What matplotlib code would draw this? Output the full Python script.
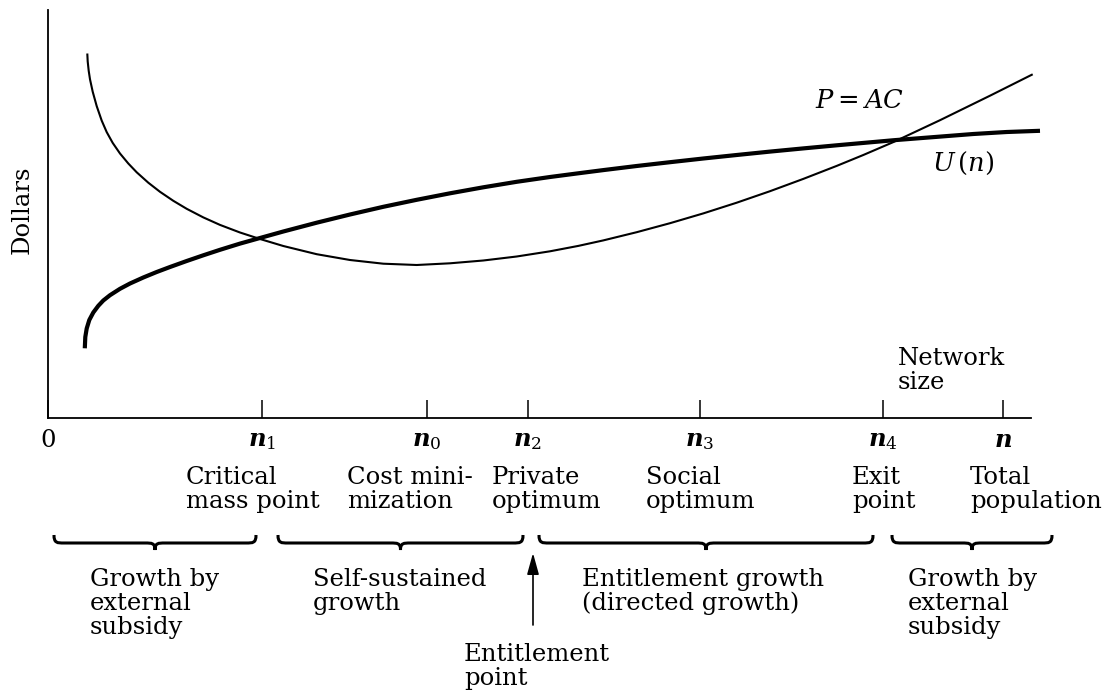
import numpy as np
import matplotlib
matplotlib.use('Agg')
from matplotlib import pyplot as plt
from matplotlib.path import Path
from matplotlib.patches import PathPatch

# courbes (x = taille du reseau, y = dollars)
ac_x = [3.93, 3.97, 4.07, 4.2, 4.47, 4.87, 5.37, 5.87, 6.47, 7.2, 8.03, 8.87, 10.03, 11.2,
        12.53, 13.87, 15.53, 17.2, 19.2, 21.2, 23.53, 26.87, 30.2, 33.53, 36.87, 40.2,
        43.53, 46.87, 50.2, 53.03, 55.53, 58.87, 62.2, 65.53, 68.87, 72.2, 75.53, 78.87,
        81.53, 84.6, 89.2, 94.2, 98.47]
ac_y = [36.45, 35.65, 34.72, 33.87, 32.63, 31.19, 29.74, 28.59, 27.51, 26.45, 25.45, 24.57,
        23.53, 22.62, 21.72, 20.92, 20.06, 19.31, 18.55, 17.9, 17.2, 16.38, 15.8, 15.43, 15.3,
        15.47, 15.75, 16.15, 16.67, 17.21, 17.76, 18.58, 19.48, 20.46, 21.53, 22.68, 23.91,
        25.21, 26.3, 27.62, 29.78, 32.23, 34.37]

u_x = [3.68, 3.73, 3.87, 4.13, 4.53, 5.03, 5.53, 6.2, 7.2, 8.2, 9.53, 10.87, 12.2, 13.87,
       15.53, 17.2, 19.2, 21.2, 23.53, 26.87, 30.2, 33.53, 36.87, 40.2, 43.53, 46.87,
       50.2, 53.03, 55.53, 58.87, 62.2, 65.53, 68.87, 72.2, 75.53, 78.87, 84.6, 92.53,
       95.87, 99.2]
u_y = [6.97, 8.1, 8.95, 9.8, 10.55, 11.22, 11.75, 12.28, 12.92, 13.45, 14.05, 14.6, 15.1,
       15.7, 16.27, 16.82, 17.44, 18.0, 18.65, 19.53, 20.35, 21.12, 21.82, 22.47, 23.07,
       23.62, 24.1, 24.47, 24.79, 25.2, 25.58, 25.95, 26.3, 26.64, 26.96, 27.27, 27.78,
       28.4, 28.6, 28.72]

# points sur l'axe
tick_pos = [0, 21.4, 37.9, 48.0, 65.2, 83.5, 95.5]
tick_lab = ['0', r'$\mathbfit{n}_1$', r'$\mathbfit{n}_0$', r'$\mathbfit{n}_2$',
            r'$\mathbfit{n}_3$', r'$\mathbfit{n}_4$', r'$\mathbfit{n}$']

desc = ['Critical\nmass point', 'Cost mini-\nmization', 'Private\noptimum',
        'Social\noptimum', 'Exit\npoint', 'Total\npopulation']
desc_x = [13.8, 29.9, 44.4, 59.8, 80.4, 92.2]

# accolades : debut, fin
phases = [(0.6, 20.8), (23.0, 47.5), (49.1, 82.5), (84.4, 100.4)]
phase_txt = ['Growth by\nexternal\nsubsidy', 'Self-sustained\ngrowth',
             'Entitlement growth\n(directed growth)', 'Growth by\nexternal\nsubsidy']
phase_x = [4.2, 26.5, 53.4, 86.0]

entitlement_x = 48.5

plt.rcParams['font.family'] = 'DejaVu Serif'
plt.rcParams['mathtext.fontset'] = 'dejavuserif'
fs = 17.5

fig = plt.figure(figsize=(11.12, 6.9), dpi=100)
ax = fig.add_axes([48/1112, (690-418)/690, (1031-48)/1112, (418-10)/690])
ax.set_xlim(0, 98.3)
ax.set_ylim(0, 40.8)

ax.plot(ac_x, ac_y, color='black', lw=1.5, clip_on=False, solid_capstyle='butt',
        solid_joinstyle='round')
ax.plot(u_x, u_y, color='black', lw=3.0, clip_on=False, solid_capstyle='butt',
        solid_joinstyle='round')

for s in ['top', 'right']:
    ax.spines[s].set_visible(False)
for s in ['left', 'bottom']:
    ax.spines[s].set_linewidth(1.3)

ax.set_yticks([])
ax.set_xticks(tick_pos)
ax.set_xticklabels(tick_lab, fontsize=fs)
ax.tick_params(axis='x', direction='in', length=13, width=1.1, pad=8)

ax.text(-2.6, 20.8, 'Dollars', rotation=90, ha='center', va='center', fontsize=fs, clip_on=False)
ax.text(76.7, 31.8, r'$P = AC$', ha='left', va='center', fontsize=18.5)
ax.text(88.4, 25.5, r'$U\,(n)$', ha='left', va='center', fontsize=18.5)
ax.text(85.0, 7.1, 'Network\nsize', ha='left', va='top', fontsize=fs, linespacing=1.05)

for t, x in zip(desc, desc_x):
    ax.text(x, -4.8, t, ha='left', va='top', fontsize=fs, linespacing=1.08, clip_on=False)


def brace(x0, x1, y0=-11.7, y1=-12.5, y2=-13.2, r=1.0):
    xm = (x0 + x1) / 2
    verts = [(x0, y0), (x0, y1), (x0 + 0.3*r, y1), (x0 + r, y1),
             (xm - r, y1),
             (xm - 0.3*r, y1), (xm, y1), (xm, y2),
             (xm, y1), (xm + 0.3*r, y1), (xm + r, y1),
             (x1 - r, y1),
             (x1 - 0.3*r, y1), (x1, y1), (x1, y0)]
    codes = [Path.MOVETO, Path.CURVE4, Path.CURVE4, Path.CURVE4,
             Path.LINETO,
             Path.CURVE4, Path.CURVE4, Path.CURVE4,
             Path.CURVE4, Path.CURVE4, Path.CURVE4,
             Path.LINETO,
             Path.CURVE4, Path.CURVE4, Path.CURVE4]
    p = PathPatch(Path(verts, codes), fc='none', ec='black', lw=2.2, clip_on=False)
    ax.add_patch(p)


for (a, b), t, x in zip(phases, phase_txt, phase_x):
    brace(a, b)
    ax.text(x, -15.0, t, ha='left', va='top', fontsize=fs, linespacing=1.05, clip_on=False)

ax.annotate('', xy=(entitlement_x, -13.5), xytext=(entitlement_x, -20.7),
            arrowprops=dict(arrowstyle='-|>,head_length=1.3,head_width=0.36',
                            color='black', lw=1.2, shrinkA=0, shrinkB=0),
            annotation_clip=False)
ax.text(41.6, -22.5, 'Entitlement\npoint', ha='left', va='top', fontsize=fs,
        linespacing=1.05, clip_on=False)

fig.savefig('out.png', dpi=100)
